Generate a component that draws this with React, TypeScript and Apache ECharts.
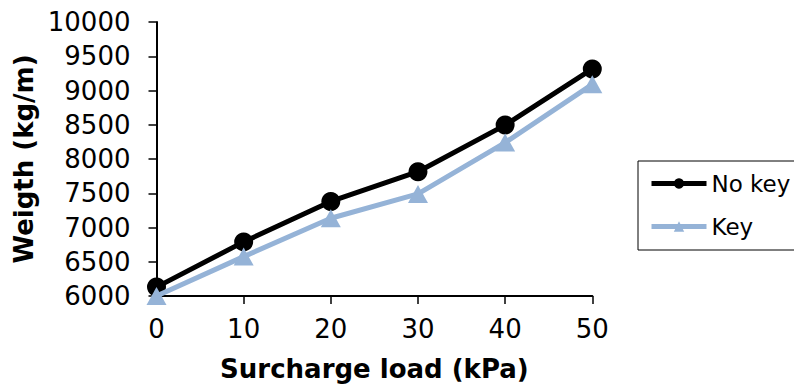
import React, { useEffect, useRef } from "react";
import * as echarts from "echarts";

const surchargeLoad = [0, 10, 20, 30, 40, 50];
const noKeyWeights = [6130, 6790, 7380, 7815, 8495, 9315];
const keyWeights = [6000, 6575, 7135, 7490, 8240, 9090];
const seriesNames = ["No key", "Key"];
const xTitle = "Surcharge load (kPa)";
const yTitle = "Weigth (kg/m)";

const FONT = "DejaVu Sans";

export default function App() {
  const ref = useRef<HTMLDivElement>(null);
  useEffect(() => {
    if (!ref.current) return;
    const chart = echarts.init(ref.current, undefined, { renderer: "svg" });
    chart.setOption({
      animation: false,
      backgroundColor: "#ffffff",
      textStyle: { fontFamily: FONT },
      grid: { left: 156.5, right: 201.7, top: 22, bottom: 91, containLabel: false },
      legend: {
        left: 638,
        top: 161,
        orient: "vertical",
        data: seriesNames,
        itemWidth: 55,
        itemHeight: 13,
        itemGap: 20,
        padding: [11, 16, 12, 11],
        borderColor: "#000000",
        borderWidth: 1,
        lineStyle: { width: 5 },
        textStyle: { fontFamily: FONT, fontSize: 23, color: "#000000" },
      },
      xAxis: {
        type: "value",
        min: 0,
        max: 50,
        interval: 10,
        name: xTitle,
        nameLocation: "middle",
        nameGap: 60,
        nameTextStyle: { fontFamily: FONT, fontSize: 26, fontWeight: "bold", color: "#000000" },
        axisLine: { show: true, lineStyle: { color: "#000000", width: 2 } },
        axisTick: { show: true, length: 8, inside: false, lineStyle: { color: "#000000", width: 1.5 } },
        axisLabel: { fontFamily: FONT, fontSize: 26, color: "#000000", margin: 20 },
        splitLine: { show: false },
      },
      yAxis: {
        type: "value",
        min: 6000,
        max: 10000,
        interval: 500,
        name: yTitle,
        nameLocation: "middle",
        nameGap: 118,
        nameRotate: 90,
        nameTextStyle: { fontFamily: FONT, fontSize: 26, fontWeight: "bold", color: "#000000" },
        axisLine: { show: true, lineStyle: { color: "#000000", width: 2 } },
        axisTick: { show: true, length: 8, inside: false, lineStyle: { color: "#000000", width: 1.5 } },
        axisLabel: {
          fontFamily: FONT,
          fontSize: 26,
          color: "#000000",
          margin: 26,
          formatter: (v: number) => String(v),
        },
        splitLine: { show: false },
      },
      series: [
        {
          name: seriesNames[0],
          type: "line",
          data: surchargeLoad.map((x, i) => [x, noKeyWeights[i]]),
          symbol: "circle",
          symbolSize: 19,
          lineStyle: { color: "#000000", width: 5 },
          itemStyle: { color: "#000000" },
          z: 2,
        },
        {
          name: seriesNames[1],
          type: "line",
          data: surchargeLoad.map((x, i) => [x, keyWeights[i]]),
          symbol: "triangle",
          symbolSize: [20, 18],
          lineStyle: { color: "#95B3D7", width: 5 },
          itemStyle: { color: "#95B3D7" },
          z: 3,
        },
      ],
    });
    return () => chart.dispose();
  }, []);
  return <div ref={ref} style={{ width: 794, height: 387, position: "absolute", left: 0, top: 0 }} />;
}
